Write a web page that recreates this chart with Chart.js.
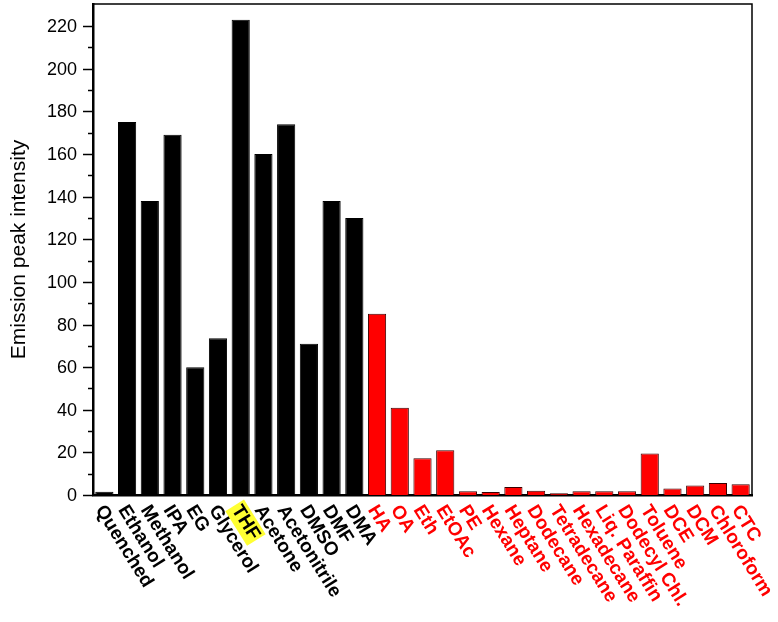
<!DOCTYPE html>
<html>
<head>
<meta charset="utf-8">
<script src="https://cdn.jsdelivr.net/npm/chart.js@4"></script>
<style>
  html, body { margin: 0; padding: 0; background: #fff; }
  #wrap { width: 778px; height: 622px; }
</style>
</head>
<body>
<div id="wrap"><canvas id="myChart"></canvas></div>
<script>
/*               data                */

const solvents = ['Quenched', 'Ethanol', 'Methanol', 'IPA', 'EG', 'Glycerol', 'THF', 'Acetone',
    'Acetonitrile', 'DMSO', 'DMF', 'DMA', 'HA', 'OA', 'Eth', 'EtOAc', 'PE', 'Hexane', 'Heptane',
    'Dodecane', 'Tetradecane', 'Hexadecane', 'Liq. Paraffin', 'Dodecyl Chl.', 'Toluene', 'DCE',
    'DCM', 'Chloroform', 'CTC'];
const intensity = [1.5, 175, 138, 169, 60, 73.5, 223, 160, 174, 71, 138, 130, 85, 41, 17.3, 21,
    1.8, 1.4, 3.8, 2.0, 0.8, 1.8, 1.8, 1.8, 19.5, 3.0, 4.5, 5.6, 5.1];
const polarCount = 12;   // first twelve are the black ones
const yTicks = [0, 20, 40, 60, 80, 100, 120, 140, 160, 180, 200, 220];
const yMinorTicks = [10, 30, 50, 70, 90, 110, 130, 150, 170, 190, 210];

const FONT = '"Liberation Sans", Arial, sans-serif';

/*               frame, y ticks and slanted labels                */

const frameAndLabels = {
    id: 'frameAndLabels',
    afterDraw(chart) {
        const ctx = chart.ctx;
        const area = chart.chartArea;
        const xs = chart.scales.x;
        const ys = chart.scales.y;

        ctx.save();
        // top and right border
        ctx.strokeStyle = '#000';
        ctx.lineWidth = 1.5;
        ctx.beginPath();
        ctx.moveTo(area.left, area.top);
        ctx.lineTo(area.right, area.top);
        ctx.lineTo(area.right, area.bottom);
        ctx.stroke();

        // y ticks, major and minor
        ctx.lineWidth = 1.5;
        ctx.fillStyle = '#000';
        ctx.font = '18px ' + FONT;
        ctx.textAlign = 'right';
        ctx.textBaseline = 'middle';
        yTicks.forEach(function (v) {
            const py = Math.round(ys.getPixelForValue(v)) + 0.5;
            ctx.beginPath();
            ctx.moveTo(area.left - 10, py);
            ctx.lineTo(area.left, py);
            ctx.stroke();
            ctx.fillText(String(v), area.left - 16, py + 1);
        });
        yMinorTicks.forEach(function (v) {
            const py = Math.round(ys.getPixelForValue(v)) + 0.5;
            ctx.beginPath();
            ctx.moveTo(area.left - 5, py);
            ctx.lineTo(area.left, py);
            ctx.stroke();
        });

        // slanted category labels
        ctx.font = 'bold 19px ' + FONT;
        ctx.textAlign = 'left';
        ctx.textBaseline = 'middle';
        const ang = 58 * Math.PI / 180;
        solvents.forEach(function (lab, i) {
            const px = xs.getPixelForTick(i);
            ctx.save();
            ctx.translate(px - 5, area.bottom + 12);
            ctx.rotate(ang);
            if (lab === 'THF') {
                const w = ctx.measureText(lab).width;
                ctx.fillStyle = '#ffff33';
                ctx.fillRect(-2, -11, w + 4, 22);
            }
            ctx.fillStyle = i < polarCount ? '#000' : '#ff0000';
            ctx.fillText(lab, 0, 0);
            ctx.restore();
        });
        ctx.restore();
    }
};

/*               the chart                */

let ctx = document.getElementById('myChart').getContext('2d');
let chart = new Chart(ctx, {
    type: 'bar',
    data: {
        labels: solvents,
        datasets: [{
            data: intensity,
            backgroundColor: solvents.map((s, i) => i < polarCount ? '#000000' : '#ff0000'),
            borderColor: solvents.map((s, i) => i < polarCount ? '#000000' : '#3a0000'),
            borderWidth: 1,
            categoryPercentage: 1,
            barPercentage: 0.8
        }]
    },
    options: {
        responsive: true,
        maintainAspectRatio: false,
        animation: false,
        layout: { padding: { top: 4, right: 26, left: 7, bottom: 0 } },
        plugins: {
            legend: { display: false },
            tooltip: { enabled: false }
        },
        scales: {
            x: {
                offset: true,
                grid: { display: false },
                ticks: { display: false },
                border: { display: true, color: '#000', width: 2.5 },
                afterFit(scale) { scale.height = 127; }
            },
            y: {
                min: 0,
                max: 230.4,
                grid: { display: false },
                ticks: { display: false },
                border: { display: true, color: '#000', width: 2.5 },
                title: {
                    display: true,
                    text: 'Emission peak intensity',
                    color: '#000',
                    font: { family: FONT, size: 21 },
                    padding: { top: 0, bottom: 0 }
                },
                afterFit(scale) { scale.width = 86; }
            }
        }
    },
    plugins: [frameAndLabels]
});
</script>
</body>
</html>
